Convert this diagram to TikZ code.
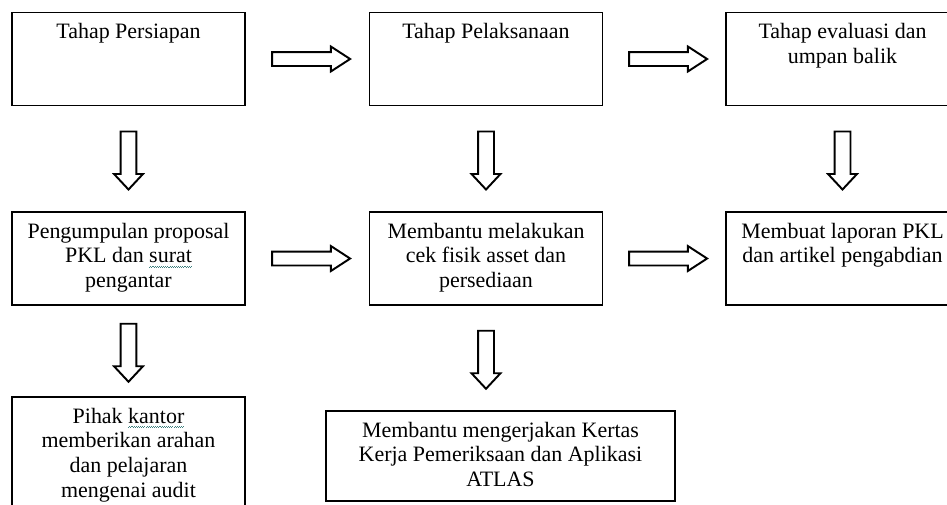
\documentclass[tikz,border=0pt]{standalone}
\usepackage{fontspec}
\setmainfont{Liberation Serif}
\usepackage{xcolor}
\usepackage{tikz}
\usetikzlibrary{calc, shapes.arrows, positioning}

\newcommand{\boxtext}[3][4.5cm]{\parbox[c][#2][t]{#1}{\centering #3}}
\newcommand{\spellmark}[1]{\setbox0\hbox{#1}\leavevmode
  \rlap{\color{teal!50!gray}\raisebox{-2.6pt}{\hbox to\wd0{\xleaders\hbox{\rule[0pt]{0.6pt}{0.4pt}\rule[0.4pt]{0.6pt}{0.4pt}}\hfil}}}#1}

\begin{document}
\begin{tikzpicture}[
            x=0.02cm, y=-0.02cm,
            stage/.style={draw, line width=1.1pt, minimum width=4.66cm, inner xsep=0pt, inner ysep=0.22cm,
                          font=\fontsize{12.5}{14}\selectfont},
            rarrow/.style={xshift=-0.03cm, single arrow, draw, line width=1.1pt, inner xsep=0pt, inner ysep=0.12cm,
                           minimum height=1.56cm, single arrow head extend=0.11cm, single arrow tip angle=66},
            darrow/.style={yshift=0.05cm, single arrow, draw, line width=1.1pt, inner xsep=0pt, inner ysep=0.14cm, rotate=-90,
                           minimum height=1.16cm, single arrow head extend=0.13cm, single arrow tip angle=86}
        ]
        \clip (0,0) rectangle (947,504);

        % Stages (manual layout to match figure)
        \node[stage] (persiapan) at (128.5,59) {\boxtext{1.42cm}{Tahap Persiapan}};
        \node[stage] (pelaksanaan) at (486,59) {\boxtext{1.42cm}{Tahap Pelaksanaan}};
        \node[stage] (evaluasi) at (842.5,59) {\boxtext{1.42cm}{Tahap evaluasi dan\\ umpan balik}};

        \node[stage] (proposal) at (128.5,258.5) {\boxtext{1.42cm}{Pengumpulan proposal\\ PKL dan \spellmark{surat}\\ pengantar}};
        \node[stage] (cekfisik) at (486,258.5) {\boxtext{1.42cm}{Membantu melakukan\\ cek fisik asset dan\\ persediaan}};
        \node[stage] (laporan) at (842.5,258.5) {\boxtext{1.42cm}{Membuat laporan PKL\\ dan artikel pengabdian}};

        \node[stage] (arahan) at (128.5,461) {\boxtext{2.12cm}{Pihak \spellmark{kantor}\\ memberikan arahan\\ dan pelajaran\\ mengenai audit}};
        \node[stage, minimum width=6.98cm] (kertas) at (500.5,456) {\boxtext[6.5cm]{1.36cm}{Membantu mengerjakan Kertas\\ Kerja Pemeriksaan dan Aplikasi\\ ATLAS}};

        % Arrows
        \node[rarrow] (a1) at ($(persiapan.east)!0.5!(pelaksanaan.west)$) {};
        \node[rarrow] (a2) at ($(pelaksanaan.east)!0.5!(evaluasi.west)$) {};
        \node[rarrow] (a3) at ($(proposal.east)!0.5!(cekfisik.west)$) {};
        \node[rarrow] (a4) at ($(cekfisik.east)!0.5!(laporan.west)$) {};

        \node[darrow] (d1) at ($(persiapan.south)!0.5!(proposal.north)$) {};
        \node[darrow] (d2) at ($(pelaksanaan.south)!0.5!(cekfisik.north)$) {};
        \node[darrow] (d3) at ($(evaluasi.south)!0.5!(laporan.north)$) {};
        \node[darrow] (d4) at ($(proposal.south)!0.5!(arahan.north)$) {};
        \node[darrow] (d5) at ($(cekfisik.south)!0.5!(cekfisik.south |- kertas.north)$) {};

    \end{tikzpicture}
\end{document}
